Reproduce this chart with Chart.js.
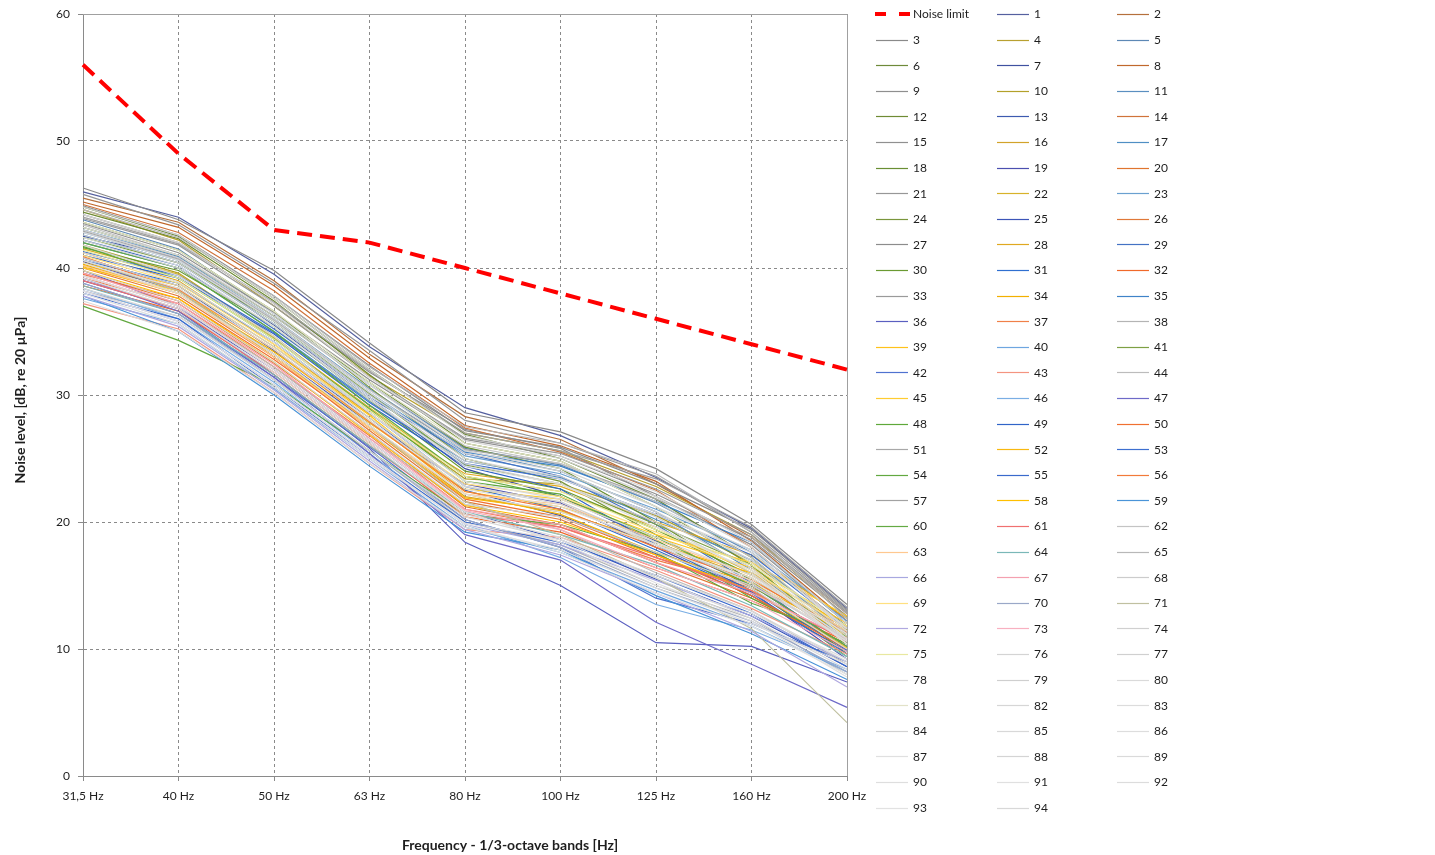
<!DOCTYPE html>
<html>
<head>
<meta charset="utf-8">
<script src="https://cdn.jsdelivr.net/npm/chart.js@4.4.1/dist/chart.umd.min.js"></script>
<style>
html,body{margin:0;padding:0;background:#fff;}
canvas{display:block;}
</style>
</head>
<body>
<canvas id="c" width="1435" height="855"></canvas>
<script>
// ---------- DATA ----------
const frequencies = ["31,5 Hz","40 Hz","50 Hz","63 Hz","80 Hz","100 Hz","125 Hz","160 Hz","200 Hz"];
const yTicks = [0,10,20,30,40,50,60];
const noiseLimit = [56, 49, 43, 42, 40, 38, 36, 34, 32];

const s1 = [46.0, 44.0, 39.5, 33.8, 29.0, 26.8, 23.5, 19.5, 13.2];
const s2 = [45.5, 43.6, 39.0, 33.2, 28.3, 26.5, 23.0, 18.8, 12.8];
const s3 = [46.3, 43.8, 39.8, 34.1, 28.6, 27.1, 24.2, 19.8, 13.5];
const s4 = [44.6, 42.2, 37.0, 31.5, 27.0, 25.6, 22.8, 19.0, 12.5];
const s5 = [43.8, 41.5, 36.4, 30.8, 25.8, 24.5, 21.5, 17.6, 11.8];
const s6 = [44.8, 42.5, 37.6, 32.0, 26.9, 25.0, 21.8, 17.2, 11.0];
const s7 = [42.5, 40.8, 35.5, 29.8, 24.2, 22.0, 18.5, 15.0, 10.2];
const s8 = [45.2, 43.2, 38.6, 32.9, 27.6, 26.0, 23.2, 18.5, 12.2];
const s9 = [44.2, 42.0, 37.2, 31.8, 27.3, 25.8, 22.0, 18.2, 12.0];
const s10 = [41.8, 39.6, 34.6, 28.8, 23.4, 23.0, 20.5, 16.8, 11.5];
const s11 = [43.0, 40.9, 36.0, 30.5, 25.6, 24.0, 20.8, 16.2, 10.8];
const s12 = [44.4, 42.3, 37.4, 31.6, 26.2, 24.8, 21.2, 16.6, 10.5];
const s13 = [40.8, 38.6, 33.5, 28.2, 22.5, 20.5, 17.5, 14.2, 9.8];
const s14 = [45.0, 42.8, 38.2, 32.5, 27.4, 25.5, 22.5, 18.0, 11.6];
const s15 = [43.5, 41.2, 36.5, 31.2, 26.5, 25.2, 22.2, 18.6, 12.6];
const s16 = [40.2, 38.4, 33.0, 27.6, 22.0, 20.8, 18.4, 15.6, 10.8];
const s17 = [42.0, 40.0, 35.0, 29.5, 24.8, 23.5, 20.2, 17.0, 11.2];
const s18 = [43.2, 41.0, 36.2, 31.0, 25.9, 24.2, 20.0, 15.4, 9.6];
const s19 = [40.5, 38.2, 33.2, 27.8, 23.0, 21.5, 18.0, 14.5, 9.2];
const s20 = [39.6, 37.4, 32.5, 27.0, 21.2, 19.8, 16.8, 14.0, 10.4];
const s21 = [45.8, 43.4, 38.8, 33.5, 28.0, 26.2, 23.6, 19.2, 13.0];
const s22 = [41.5, 39.5, 34.5, 29.0, 23.6, 22.4, 19.6, 16.0, 11.0];
const s23 = [42.8, 40.6, 35.8, 30.2, 25.2, 23.8, 21.0, 17.8, 12.2];
const s24 = [43.6, 41.4, 36.6, 30.6, 25.0, 23.2, 19.0, 14.8, 9.4];
const s25 = [39.0, 36.8, 32.0, 26.4, 20.8, 18.6, 15.5, 12.6, 8.6];
const s26 = [40.0, 37.8, 33.0, 27.2, 21.6, 20.2, 17.2, 14.8, 11.8];
const s27 = [44.9, 42.6, 37.8, 32.3, 27.2, 25.9, 23.0, 19.4, 13.1];
const s28 = [41.2, 39.0, 34.0, 28.5, 23.8, 22.8, 20.0, 17.4, 12.4];
const s29 = [42.2, 40.2, 35.2, 29.8, 25.4, 23.6, 19.8, 15.2, 10.0];
const s30 = [41.6, 39.8, 35.4, 29.6, 24.0, 22.6, 19.4, 15.8, 11.4];
const s31 = [40.6, 38.8, 34.2, 28.6, 22.8, 21.0, 17.8, 14.4, 9.6];
const s32 = [38.6, 36.6, 31.8, 26.2, 20.4, 19.2, 16.4, 13.8, 10.6];
const s33 = [43.9, 41.8, 37.0, 31.4, 26.6, 25.4, 22.6, 19.0, 12.9];
const s34 = [40.3, 38.0, 33.4, 28.0, 22.2, 20.6, 17.6, 15.2, 11.2];
const s35 = [42.6, 40.4, 35.6, 30.0, 25.5, 24.4, 21.6, 18.4, 12.0];
const s36 = [39.8, 37.0, 31.6, 25.8, 18.4, 15.0, 10.5, 10.2, 7.4];
const s37 = [39.2, 37.2, 32.2, 26.8, 21.0, 19.6, 17.0, 15.0, 10.9];
const s38 = [38.2, 36.2, 31.2, 25.6, 20.0, 18.2, 15.0, 12.4, 8.0];
const s39 = [40.4, 38.6, 33.8, 28.4, 22.4, 21.2, 18.8, 16.4, 12.0];
const s40 = [37.6, 35.6, 30.5, 25.0, 19.6, 17.6, 14.6, 11.8, 8.2];
const s41 = [42.4, 40.4, 35.8, 30.1, 24.5, 23.0, 19.8, 16.6, 10.6];
const s42 = [38.8, 36.4, 31.4, 25.9, 20.2, 18.0, 14.0, 12.0, 9.0];
const s43 = [37.2, 35.2, 30.2, 24.6, 19.4, 18.8, 16.2, 13.2, 9.6];
const s44 = [39.4, 37.0, 32.2, 26.6, 21.4, 19.4, 16.0, 13.0, 8.8];
const s45 = [40.0, 38.2, 33.6, 27.8, 22.6, 21.8, 19.0, 16.8, 12.6];
const s46 = [38.4, 36.0, 31.0, 25.4, 19.8, 17.2, 13.5, 11.5, 8.4];
const s47 = [39.2, 36.6, 31.4, 25.4, 19.0, 17.0, 12.1, 8.8, 5.4];
const s48 = [41.7, 39.2, 34.4, 28.9, 23.2, 22.2, 18.6, 14.0, 10.4];
const s49 = [41.0, 39.2, 34.8, 29.2, 24.4, 22.6, 18.2, 14.6, 9.9];
const s50 = [39.5, 37.6, 32.8, 27.4, 21.8, 20.4, 17.4, 14.2, 10.0];
const s51 = [42.9, 40.7, 35.9, 30.4, 25.7, 24.6, 21.8, 18.8, 12.8];
const s52 = [40.1, 38.0, 33.2, 27.4, 21.9, 20.9, 18.2, 16.0, 11.8];
const s53 = [41.3, 39.4, 34.9, 29.4, 24.6, 23.4, 20.6, 17.4, 11.6];
const s54 = [37.0, 34.3, 30.8, 25.6, 20.6, 19.8, 17.6, 13.6, 11.0];
const s55 = [38.0, 36.0, 30.6, 25.2, 20.0, 18.4, 15.8, 12.8, 8.6];
const s56 = [40.9, 38.3, 33.6, 27.9, 22.4, 21.0, 18.0, 15.4, 11.3];
const s57 = [44.0, 41.9, 37.3, 31.9, 27.0, 25.6, 23.4, 19.6, 13.3];
const s58 = [39.8, 37.6, 32.6, 26.9, 21.3, 20.0, 17.4, 14.6, 10.1];
const s59 = [37.8, 35.0, 30.0, 24.4, 19.2, 17.8, 14.2, 11.2, 7.6];
const s60 = [42.0, 40.0, 35.0, 29.2, 23.6, 22.0, 18.8, 15.0, 10.2];
const s61 = [39.0, 36.8, 31.6, 26.0, 20.6, 19.6, 17.2, 14.6, 10.6];
const s62 = [43.4, 41.0, 36.2, 30.8, 26.0, 24.6, 21.6, 17.2, 11.2];
const s63 = [40.2, 38.0, 33.0, 27.4, 22.2, 21.4, 18.6, 15.8, 11.4];
const s64 = [38.6, 36.4, 31.6, 26.0, 20.8, 19.0, 16.6, 13.4, 9.4];
const s65 = [44.6, 42.4, 37.8, 32.2, 27.5, 26.2, 23.8, 19.2, 12.4];
const s66 = [38.2, 35.8, 30.8, 25.2, 19.8, 18.2, 15.4, 12.6, 9.0];
const s67 = [39.6, 37.2, 32.4, 26.6, 21.0, 19.8, 16.8, 14.4, 10.8];
const s68 = [42.6, 40.4, 35.6, 30.0, 24.8, 23.6, 20.4, 16.4, 10.6];
const s69 = [41.0, 38.8, 34.0, 28.2, 23.0, 22.0, 19.2, 16.2, 11.6];
const s70 = [38.8, 36.4, 31.2, 25.6, 20.2, 18.0, 14.8, 12.2, 8.2];
const s71 = [40.6, 38.2, 33.2, 27.6, 21.6, 19.0, 15.6, 11.6, 4.2];
const s72 = [37.8, 35.4, 30.4, 24.8, 19.4, 17.4, 14.4, 11.4, 7.0];
const s73 = [39.4, 37.0, 32.0, 26.4, 20.9, 19.4, 16.4, 13.8, 9.8];
const s74 = [43.0, 40.8, 36.0, 30.4, 25.4, 24.0, 20.8, 17.0, 11.0];
const s75 = [41.4, 39.2, 34.4, 28.8, 23.6, 22.4, 19.4, 16.6, 11.8];
const s76 = [44.2, 42.0, 37.2, 31.4, 26.4, 25.0, 22.0, 18.0, 11.6];
const s77 = [42.2, 40.0, 35.4, 29.6, 24.6, 23.0, 20.0, 16.0, 10.4];
const s78 = [38.4, 36.2, 31.2, 25.6, 20.4, 18.6, 15.8, 13.0, 9.0];
const s79 = [40.8, 38.6, 33.8, 28.2, 22.8, 21.6, 18.4, 15.2, 10.6];
const s80 = [39.2, 36.8, 31.8, 26.2, 20.6, 18.8, 15.6, 12.4, 8.4];
const s81 = [43.6, 41.4, 36.6, 31.0, 26.2, 24.8, 21.2, 16.8, 10.8];
const s82 = [41.8, 39.4, 34.6, 28.6, 22.8, 21.4, 18.2, 14.8, 10.0];
const s83 = [37.4, 35.0, 30.2, 24.6, 19.6, 17.8, 14.8, 12.0, 8.8];
const s84 = [39.8, 37.4, 32.6, 27.0, 21.4, 20.4, 17.6, 15.0, 10.8];
const s85 = [42.8, 40.6, 35.8, 30.2, 25.0, 23.4, 20.6, 17.6, 11.6];
const s86 = [40.4, 38.0, 33.2, 27.6, 22.2, 20.8, 18.2, 15.6, 11.2];
const s87 = [38.0, 35.6, 30.6, 25.0, 19.9, 18.6, 15.2, 12.2, 7.8];
const s88 = [44.8, 42.6, 37.6, 32.0, 26.8, 25.2, 22.4, 18.4, 12.0];
const s89 = [41.2, 38.9, 34.2, 28.6, 23.2, 21.8, 18.8, 15.8, 10.8];
const s90 = [39.4, 37.0, 32.0, 26.4, 20.8, 18.4, 15.0, 12.8, 9.2];
const s91 = [42.4, 40.2, 35.4, 29.8, 24.4, 23.0, 19.6, 16.2, 10.4];
const s92 = [40.6, 38.4, 33.6, 28.0, 22.6, 21.2, 18.4, 15.4, 10.6];
const s93 = [38.2, 35.8, 30.8, 25.2, 19.8, 17.6, 14.4, 11.8, 8.0];
const s94 = [43.2, 41.0, 36.4, 30.8, 25.6, 24.2, 21.2, 17.8, 11.4];

const seriesData = [s1,s2,s3,s4,s5,s6,s7,s8,s9,s10,s11,s12,s13,s14,s15,s16,s17,s18,s19,s20,
  s21,s22,s23,s24,s25,s26,s27,s28,s29,s30,s31,s32,s33,s34,s35,s36,s37,s38,s39,s40,
  s41,s42,s43,s44,s45,s46,s47,s48,s49,s50,s51,s52,s53,s54,s55,s56,s57,s58,s59,s60,
  s61,s62,s63,s64,s65,s66,s67,s68,s69,s70,s71,s72,s73,s74,s75,s76,s77,s78,s79,s80,
  s81,s82,s83,s84,s85,s86,s87,s88,s89,s90,s91,s92,s93,s94];

// ---------- STYLES ----------
const seriesColors = [
  "#55609f","#b5703c","#8a8a8a","#b8a030","#5d88b5","#6e8a3a",
  "#3f51a0","#c0682c","#8f8f8f","#b3a12a","#5a8fc0","#6f8b34",
  "#3d5ab0","#d0733a","#909090","#d2a32a","#4f8fc4","#6a8f33",
  "#4b4fb0","#e0752e","#979797","#d8b22a","#6aa0d0","#7a963c",
  "#3c55b8","#e07838","#8c8c8c","#e0a820","#4472c4","#6a9a32",
  "#2f6fd0","#f0692a","#9a9a9a","#f2b000","#3f83c8","#5a5fc0",
  "#f08048","#b4b4b4","#ffc21a","#6ea6e0","#7ea044","#4f72d0",
  "#f49480","#bcbcbc","#ffcc30","#7aaee4","#6e6ac8","#5ea83a",
  "#3064c8","#f07030","#a8a8a8","#f8b810","#3d6fd0","#62a840",
  "#3a6acc","#f27a3a","#a2a2a2","#ffbf00","#4a94d8","#64aa44",
  "#f07070","#c4c4c4","#ffc890","#7ab8b8","#b8b8b8","#a8a8e0",
  "#f4a0b0","#cccccc","#ffe080","#9aa8c8","#c0c0a0","#b0a8e0",
  "#f8b0c0","#d0d0d0","#e8e8a0","#d4d4d4","#d0d0d0","#d8d8d8",
  "#cfcfcf","#dadada","#e2e2c8","#d6d6d6","#dcdcdc","#d2d2d2",
  "#d8d8d8","#dddddd","#e0e0e0","#d4d4d4","#dadada","#dedede",
  "#e0e0e0","#dcdcdc","#e2e2e2","#d8d8d8"
];
const fontFamily = "Lato, 'Open Sans', 'DejaVu Sans', sans-serif";
const textColor = "#1e1e1e";

const datasets = [{
  label: "Noise limit",
  data: noiseLimit,
  borderColor: "#ff0000",
  backgroundColor: "#ff0000",
  borderWidth: 4,
  borderDash: [15, 8],
  order: 200
}];
seriesData.forEach((vals, i) => {
  datasets.push({
    label: String(i + 1),
    data: vals,
    borderColor: seriesColors[i],
    backgroundColor: seriesColors[i],
    borderWidth: 1.2,
    order: 150 - i
  });
});

const customPlugin = {
  id: "customDecor",
  beforeDatasetsDraw(chart) {
    const ctx = chart.ctx, a = chart.chartArea;
    ctx.save();
    ctx.strokeStyle = "#a0a0a0";
    ctx.lineWidth = 1;
    ctx.setLineDash([]);
    ctx.beginPath();
    ctx.moveTo(a.left, Math.round(a.top) + 0.5);
    ctx.lineTo(Math.round(a.right) + 0.5, Math.round(a.top) + 0.5);
    ctx.lineTo(Math.round(a.right) + 0.5, a.bottom);
    ctx.stroke();
    ctx.restore();
  },
  afterDraw(chart) {
    const ctx = chart.ctx;
    ctx.save();
    // axis titles
    ctx.fillStyle = textColor;
    ctx.font = "bold 14px " + fontFamily;
    ctx.textAlign = "center";
    ctx.textBaseline = "middle";
    ctx.fillText("Frequency - 1/3-octave bands [Hz]", 510, 845);
    ctx.save();
    ctx.translate(20, 400);
    ctx.rotate(-Math.PI / 2);
    ctx.fillText("Noise level, [dB, re 20 µPa]", 0, 0);
    ctx.restore();

    // legend: 3 columns, row-wise order
    const colSample = [876, 997, 1117];
    const sampleLen = 32;
    const rowTop = 14, rowStep = 25.6;
    ctx.font = "12px " + fontFamily;
    ctx.textAlign = "left";
    ctx.textBaseline = "middle";
    chart.data.datasets.forEach((ds, i) => {
      const col = i % 3, row = Math.floor(i / 3);
      const x0 = colSample[col];
      const y = rowTop + row * rowStep;
      ctx.save();
      ctx.strokeStyle = ds.borderColor;
      ctx.lineWidth = ds.borderWidth;
      if (i === 0) {
        ctx.setLineDash([11, 13]);
        ctx.beginPath();
        ctx.moveTo(x0 - 1, y);
        ctx.lineTo(x0 + 35, y);
        ctx.stroke();
      } else {
        ctx.beginPath();
        ctx.moveTo(x0, Math.round(y) + 0.5);
        ctx.lineTo(x0 + sampleLen, Math.round(y) + 0.5);
        ctx.stroke();
      }
      ctx.restore();
      ctx.fillStyle = textColor;
      ctx.fillText(ds.label, x0 + 37, y + 0.5);
    });
    ctx.restore();
  }
};

new Chart(document.getElementById("c"), {
  type: "line",
  data: { labels: frequencies, datasets: datasets },
  options: {
    responsive: false,
    animation: false,
    devicePixelRatio: 1,
    layout: { padding: { left: 0, top: 14, right: 588, bottom: 0 } },
    elements: { point: { radius: 0, hoverRadius: 0 }, line: { tension: 0, fill: false } },
    plugins: { legend: { display: false }, tooltip: { enabled: false }, title: { display: false } },
    scales: {
      x: {
        type: "category",
        offset: false,
        grid: { display: true, offset: false, color: "#8a8a8a", drawTicks: true, tickLength: 5, tickColor: "#8a8a8a", tickBorderDash: [] },
        border: { display: true, color: "#8a8a8a", width: 1, dash: [3, 3] },
        ticks: { color: textColor, font: { family: fontFamily, size: 12 }, maxRotation: 0, minRotation: 0, autoSkip: false, padding: 8 },
        afterFit(scale) { scale.height = 79; scale.paddingLeft = 0; scale.paddingRight = 0; }
      },
      y: {
        min: 0, max: 60,
        afterBuildTicks(scale) { scale.ticks = yTicks.map(v => ({ value: v })); },
        grid: { display: true, color: "#8a8a8a", drawTicks: true, tickLength: 5, tickColor: "#8a8a8a", tickBorderDash: [] },
        border: { display: true, color: "#8a8a8a", width: 1, dash: [3, 3] },
        ticks: { color: textColor, font: { family: fontFamily, size: 12 }, padding: 8 },
        afterFit(scale) { scale.width = 83; scale.paddingTop = 0; scale.paddingBottom = 0; }
      }
    }
  },
  plugins: [customPlugin]
});
</script>
</body>
</html>
